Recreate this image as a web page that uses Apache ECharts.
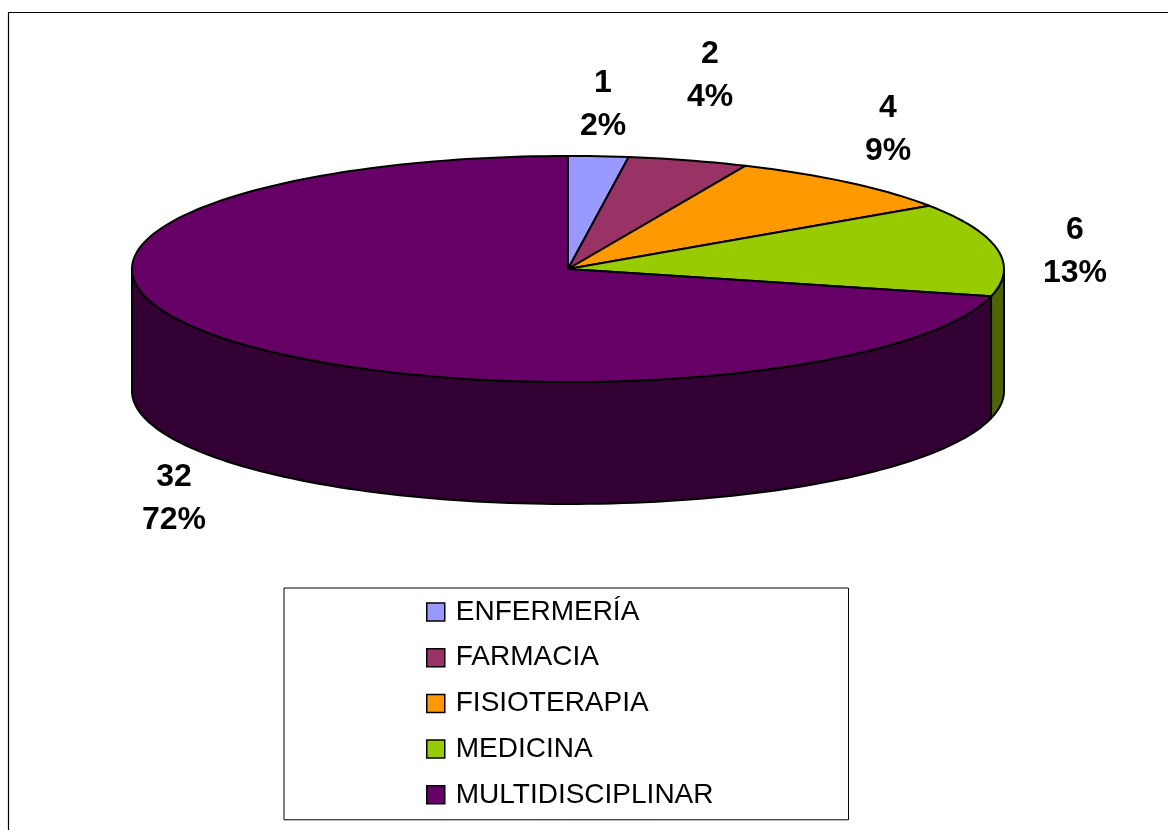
<!DOCTYPE html>
<html>
<head>
<meta charset="utf-8">
<script src="https://cdn.jsdelivr.net/npm/echarts@6/dist/echarts.min.js"></script>
<style>
  html, body { margin: 0; padding: 0; background: #fff; }
  #main { width: 1168px; height: 830px; }
</style>
</head>
<body>
<div id="main"></div>
<script>
const categories = ['ENFERMERÍA', 'FARMACIA', 'FISIOTERAPIA', 'MEDICINA', 'MULTIDISCIPLINAR'];
const values = [1, 2, 4, 6, 32];
const percentLabels = ['2%', '4%', '9%', '13%', '72%'];
const topColors = ['#9999FF', '#993366', '#FF9900', '#99CC00', '#660066'];
const sideColors = ['#4D4D80', '#4D1A33', '#804D00', '#4D6600', '#330033'];
// label centres, px
const labelPos = [[603, 105], [710, 76], [888, 130], [1075, 252], [174, 499]];

const fontName = '"Liberation Sans", Arial, sans-serif';
const cx = 568, cy = 269, rx = 436, ry = 113, depth = 122;
const total = values.reduce((a, b) => a + b, 0);

// angle clockwise from 12 o'clock, degrees
function pt(deg, dy) {
  const a = deg * Math.PI / 180;
  return [cx + rx * Math.sin(a), cy - ry * Math.cos(a) + (dy || 0)];
}
function arc(from, to, dy) {
  const pts = [];
  const steps = Math.max(2, Math.ceil((to - from) / 1.5));
  for (let i = 0; i <= steps; i++) {
    pts.push(pt(from + (to - from) * i / steps, dy));
  }
  return pts;
}

function renderSlice(params, api) {
  const idx = params.seriesIndex;
  let before = 0;
  for (let i = 0; i < idx; i++) before += values[i];
  const start = before / total * 360;
  const end = start + api.value(0) / total * 360;
  const lineStyle = { stroke: '#000', lineWidth: 2, lineJoin: 'round' };
  const children = [];

  // wall only for the part facing the viewer (90 to 270 deg)
  const wallFrom = Math.max(start, 90), wallTo = Math.min(end, 270);
  if (wallTo > wallFrom) {
    const wall = arc(wallFrom, wallTo, 0).concat(arc(wallFrom, wallTo, depth).reverse());
    children.push({
      type: 'polygon', z2: 1, silent: true,
      shape: { points: wall },
      style: Object.assign({ fill: sideColors[idx] }, lineStyle)
    });
  }
  children.push({
    type: 'polygon', z2: 2, silent: true,
    shape: { points: [[cx, cy]].concat(arc(start, end, 0)) },
    style: Object.assign({ fill: topColors[idx] }, lineStyle)
  });
  children.push({
    type: 'text', z2: 3, silent: true,
    x: labelPos[idx][0], y: labelPos[idx][1],
    style: {
      text: api.value(0) + '\n' + percentLabels[idx],
      fontFamily: fontName, fontWeight: 'bold', fontSize: 32, lineHeight: 43,
      fill: '#000', align: 'center', verticalAlign: 'middle'
    }
  });
  return { type: 'group', children: children };
}

const chart = echarts.init(document.getElementById('main'), null, { renderer: 'canvas' });
chart.setOption({
  backgroundColor: '#fff',
  animation: false,
  legend: {
    left: 284, top: 588,
    height: 232,
    orient: 'vertical',
    selectedMode: false,
    padding: [10, 135, 11, 142],
    backgroundColor: '#fff',
    borderColor: '#000', borderWidth: 1,
    itemWidth: 18, itemHeight: 18, itemGap: 17.7,
    icon: 'rect',
    itemStyle: { borderColor: '#000', borderWidth: 1.5 },
    textStyle: { fontFamily: fontName, fontSize: 28, color: '#000', padding: [0, 0, 0, 6] },
    data: categories
  },
  graphic: [{
    type: 'polyline', silent: true,
    shape: { points: [[8.5, 830], [8.5, 12.5], [1168, 12.5]] },
    style: { stroke: '#000', lineWidth: 1.2, fill: null }
  }],
  series: categories.map((name, i) => ({
    type: 'custom',
    name: name,
    coordinateSystem: 'none',
    itemStyle: { color: topColors[i] },
    renderItem: renderSlice,
    data: [[values[i]]]
  }))
});
</script>
</body>
</html>
